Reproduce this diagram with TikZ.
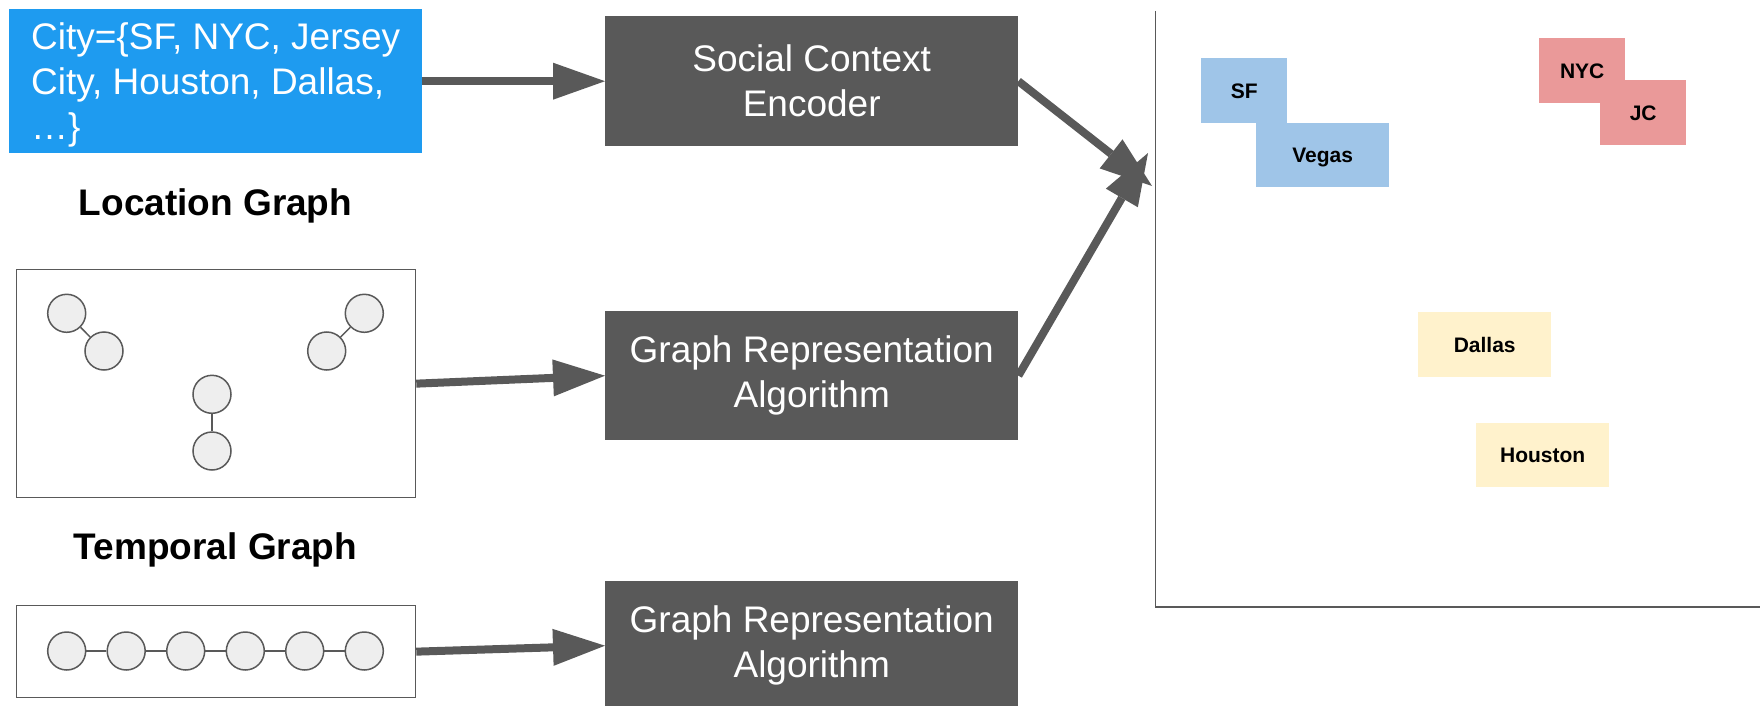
\documentclass[tikz,border=0pt]{standalone}
\usepackage{fontspec}
\setmainfont{Liberation Sans}
\usetikzlibrary{arrows.meta}

\definecolor{darkbox}{HTML}{595959}
\definecolor{cityblue}{HTML}{1E9BF0}
\definecolor{westblue}{HTML}{9FC5E8}
\definecolor{eastred}{HTML}{EA9999}
\definecolor{southyellow}{HTML}{FFF2CC}
\definecolor{vertexfill}{HTML}{EEEEEE}
\definecolor{linegray}{HTML}{595959}

\begin{document}
\begin{tikzpicture}[x=1pt,y=-1pt,
  bigfont/.style={font=\fontsize{37}{45}\selectfont},
  procbox/.style={bigfont, fill=darkbox, text=white, anchor=north west,
    minimum width=413pt, minimum height=129pt, inner sep=0pt, align=center},
  inputbox/.style={bigfont, fill=cityblue, text=white, anchor=north west,
    minimum width=413pt, minimum height=144pt, inner sep=0pt, align=left},
  graphframe/.style={draw=linegray, line width=1.3pt, anchor=north west,
    minimum width=399pt, inner sep=0pt},
  vertex/.style={circle, draw=linegray, fill=vertexfill, line width=1.5pt,
    minimum size=38pt, inner sep=0pt},
  edge/.style={draw=linegray, line width=1.5pt},
  grouplabel/.style={font=\bfseries\fontsize{37}{45}\selectfont, anchor=base},
  flow/.style={draw=darkbox, line width=8pt,
    -{Triangle[length=52pt,width=37pt,line width=0pt]}},
  axisline/.style={draw=linegray, line width=1.6pt},
  citybox/.style={anchor=north west, inner sep=0pt, text=black,
    font=\bfseries\fontsize{21}{25}\selectfont, minimum height=65pt,
    text height=15pt, text depth=0pt},
]
\useasboundingbox (0,0) rectangle (1760,706);

% input set of cities
\node[inputbox] (city) at (9,9)
  {\rule{0pt}{34pt}City=\{SF, NYC, Jersey\\City, Houston, Dallas,\\…\}};

% group labels
\node[grouplabel] (loclabel) at (215.5,215) {Location Graph};
\node[grouplabel] (templabel) at (215.5,559) {Temporal Graph};

% location graph: three pairs of linked vertices
\node[graphframe, minimum height=228pt] (locbox) at (16,269) {};
\node[vertex] (l1) at (66.7,313.3) {};
\node[vertex] (l2) at (104,351) {};
\node[vertex] (l3) at (364.3,313.3) {};
\node[vertex] (l4) at (326.7,351) {};
\node[vertex] (l5) at (212,394.3) {};
\node[vertex] (l6) at (212,451) {};
\draw[edge] (l1) -- (l2);
\draw[edge] (l3) -- (l4);
\draw[edge] (l5) -- (l6);

% temporal graph: a chain of six vertices
\node[graphframe, minimum height=92pt] (tempbox) at (16,605) {};
\foreach \i/\x in {1/66.7,2/126.2,3/185.7,4/245.3,5/304.7,6/364.3}
  \node[vertex] (t\i) at (\x,651) {};
\foreach \i/\j in {1/2,2/3,3/4,4/5,5/6}
  \draw[edge] (t\i) -- (t\j);

% processing blocks
\node[procbox, minimum height=130pt] (sce) at (605,16) {Social Context\\Encoder};
\node[procbox] (gra1) at (605,311) {Graph Representation\\Algorithm};
\node[procbox] (gra2) at (605,581) {Graph Representation\\Algorithm};

% embedding space axes
\coordinate (ytop) at (1155.5,11);
\coordinate (origin) at (1155.5,607);
\coordinate (xend) at (1760,607);
\draw[axisline] (ytop) -- (origin) -- (xend);

% arrow tips meeting at the embedding space
\coordinate (hit1) at (1152,186);
\coordinate (hit2) at (1148,153);

% data flow
\draw[flow] (city) -- (sce);
\draw[flow] (locbox.east) -- (gra1.west);
\draw[flow] (tempbox.east) -- (gra2.west);
\draw[flow] (sce.east) -- (hit1);
\draw[flow] (gra1.east) -- (hit2);

% embedded cities
\node[citybox, fill=westblue, minimum width=86pt] (sf) at (1201,58) {SF};
\node[citybox, fill=westblue, minimum width=133pt, minimum height=64pt] (vegas) at (1256,123) {Vegas};
\node[citybox, fill=eastred, minimum width=86pt] (nyc) at (1539,38) {NYC};
\node[citybox, fill=eastred, minimum width=86pt] (jc) at (1600,80) {JC};
\node[citybox, fill=southyellow, minimum width=133pt] (dallas) at (1418,312) {Dallas};
\node[citybox, fill=southyellow, minimum width=133pt, minimum height=64pt] (houston) at (1476,423) {Houston};
\end{tikzpicture}
\end{document}
